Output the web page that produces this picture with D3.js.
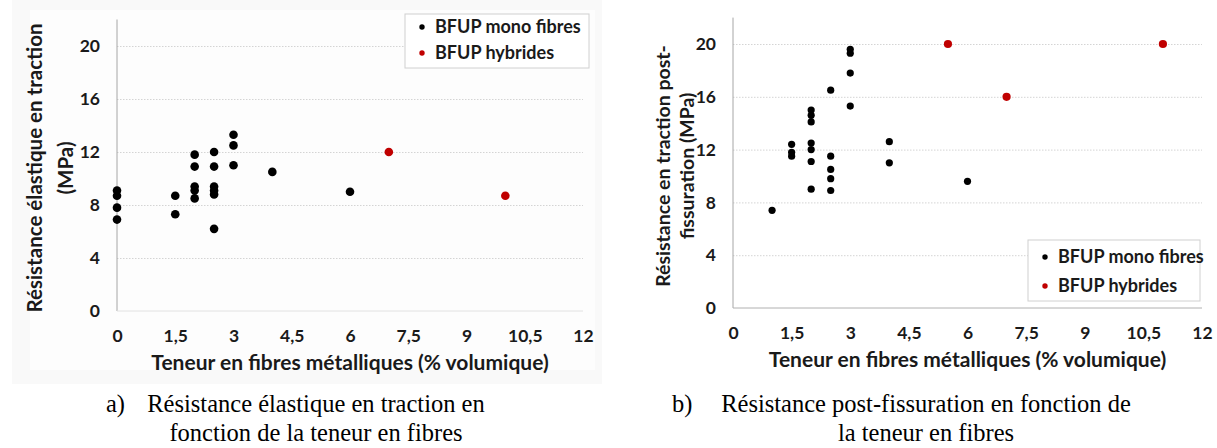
<!DOCTYPE html>
<html>
<head>
    <meta charset="UTF-8">
    <style>
        body {
            margin: 0;
            background: #fff;
        }

        svg text {
            font-family: Lato, "Open Sans", sans-serif;
            font-weight: bold;
            fill: #1a1a1a;
        }

        .grid line {
            stroke: #d4d4d4;
            stroke-dasharray: 1.5 1.5;
        }

        .caption {
            font-family: "Liberation Serif", "Times New Roman", serif !important;
            font-weight: normal !important;
            font-size: 24.5px;
            fill: #000 !important;
        }
    </style>
    <title>BFUP</title>
</head>
<body>
    <svg id="chart" width="1217" height="448"></svg>

    <script src="https://cdn.jsdelivr.net/npm/d3@7"></script>
    <script>
        const xTicks = [0, 1.5, 3, 4.5, 6, 7.5, 9, 10.5, 12];
        const yTicks = [0, 4, 8, 12, 16, 20];
        const seriesNames = ["BFUP mono fibres", "BFUP hybrides"];

        // a) résistance élastique
        const monoElastic = [
            [0, 9.1], [0, 8.7], [0, 7.8], [0, 6.9],
            [1.5, 8.7], [1.5, 7.3],
            [2, 11.8], [2, 10.9], [2, 9.4], [2, 9.1], [2, 8.5],
            [2.5, 12.0], [2.5, 10.9], [2.5, 9.4], [2.5, 9.1], [2.5, 8.8], [2.5, 6.2],
            [3, 13.3], [3, 12.5], [3, 11.0],
            [4, 10.5],
            [6, 9.0]
        ];
        const hybElastic = [[7, 12.0], [10, 8.7]];

        // b) résistance post-fissuration
        const monoPost = [
            [1, 7.4],
            [1.5, 12.4], [1.5, 11.8], [1.5, 11.5],
            [2, 15.0], [2, 14.6], [2, 14.1], [2, 12.5], [2, 12.0], [2, 11.1], [2, 9.0],
            [2.5, 16.5], [2.5, 11.5], [2.5, 10.5], [2.5, 9.8], [2.5, 8.9],
            [3, 19.6], [3, 19.3], [3, 17.8], [3, 15.3],
            [4, 12.6], [4, 11.0],
            [6, 9.6]
        ];
        const hybPost = [[5.5, 20], [7, 16], [11, 20]];

        const colors = ["#000", "#c00000"];
        const svg = d3.select("#chart");
        const fmt = d => String(d).replace(".", ",");

        // photo-like background behind panel a)
        svg.append("rect")
            .attr("x", 12).attr("y", 0)
            .attr("width", 590).attr("height", 384)
            .attr("fill", "#f9f9f9");
        svg.append("rect")
            .attr("x", 30).attr("y", 10)
            .attr("width", 565).attr("height", 360)
            .attr("fill", "#fdfdfd");

        function drawPanel(p) {
            const x = d3.scaleLinear().domain([0, 12]).range([p.left, p.right]);
            const y = d3.scaleLinear().domain([0, 22]).range([p.bottom, p.top]);
            const g = svg.append("g");

            // grid + y labels
            const yAxis = g.append("g")
                .attr("class", "grid")
                .attr("transform", `translate(${p.left},0)`)
                .call(d3.axisLeft(y).tickValues(yTicks)
                    .tickSizeInner(-(p.right - p.left)).tickSizeOuter(0)
                    .tickPadding(17));
            yAxis.select(".domain").remove();
            yAxis.selectAll(".tick").filter(d => d === 0).select("line").remove();
            yAxis.selectAll("text").style("font-size", "17.5px");

            // x labels
            const xAxis = g.append("g")
                .attr("transform", `translate(0,${p.bottom})`)
                .call(d3.axisBottom(x).tickValues(xTicks).tickFormat(fmt)
                    .tickSize(0).tickPadding(19));
            xAxis.select(".domain").remove();
            xAxis.selectAll("text").style("font-size", "17.5px");

            // axis lines
            g.append("line")
                .attr("x1", p.left).attr("x2", p.left)
                .attr("y1", p.bottom).attr("y2", y(22))
                .attr("stroke", "#a6a6a6");
            g.append("line")
                .attr("x1", p.left).attr("x2", p.right)
                .attr("y1", p.bottom).attr("y2", p.bottom)
                .attr("stroke", p.xLine);

            // points
            [p.mono, p.hyb].forEach((data, i) => {
                g.append("g").selectAll("circle")
                    .data(data)
                    .join("circle")
                    .attr("cx", d => x(d[0]))
                    .attr("cy", d => y(d[1]))
                    .attr("r", p.radius[i])
                    .attr("fill", colors[i]);
            });

            // titles
            g.append("text")
                .attr("x", (p.left + p.right) / 2)
                .attr("y", p.bottom + 59)
                .attr("text-anchor", "middle")
                .style("font-size", "21px")
                .text("Teneur en fibres métalliques (% volumique)");

            p.yTitle.forEach((line, i) => {
                g.append("text")
                    .attr("transform", `translate(${p.yTitleX[i]},${p.yTitleY}) rotate(-90)`)
                    .attr("text-anchor", "middle")
                    .attr("dy", "0.35em")
                    .style("font-size", p.yTitleSize)
                    .text(line);
            });

            // legend
            const lg = g.append("g").attr("transform", `translate(${p.legend[0]},${p.legend[1]})`);
            lg.append("rect")
                .attr("width", p.legend[2]).attr("height", p.legend[3])
                .attr("fill", "#fff").attr("stroke", "#d0d0d0");
            seriesNames.forEach((name, i) => {
                const row = lg.append("g").attr("transform", `translate(0,${p.legendRows[i]})`);
                row.append("circle")
                    .attr("cx", 17).attr("r", 2.7)
                    .attr("fill", colors[i]);
                row.append("text")
                    .attr("x", 30).attr("dy", "0.35em")
                    .style("font-size", "18px")
                    .text(name);
            });

            // caption
            svg.append("text").attr("class", "caption")
                .attr("x", p.capLabelX).attr("y", 412)
                .text(p.capLabel);
            p.caption.forEach((line, i) => {
                svg.append("text").attr("class", "caption")
                    .attr("x", p.capCenter).attr("y", 412 + i * 29)
                    .attr("text-anchor", "middle")
                    .text(line);
            });
        }

        drawPanel({
            left: 117, right: 583, top: 19.5, bottom: 311,
            mono: monoElastic, hyb: hybElastic,
            radius: [4.3, 4.3],
            xLine: "#e2e2e2",
            yTitle: ["Résistance élastique en traction", "(MPa)"],
            yTitleX: [35, 66], yTitleY: 168, yTitleSize: "20.5px",
            legend: [405, 14, 184, 54], legendRows: [13, 39],
            capLabel: "a)", capLabelX: 106, capCenter: 316,
            caption: ["Résistance élastique en traction en", "fonction de la teneur en fibres"]
        });

        drawPanel({
            left: 733, right: 1202, top: 17.6, bottom: 308,
            mono: monoPost, hyb: hybPost,
            radius: [3.6, 4.1],
            xLine: "#b0b0b0",
            yTitle: ["Résistance en traction post-", "fissuration (MPa)"],
            yTitleX: [663, 687], yTitleY: 166, yTitleSize: "19.5px",
            legend: [1028, 240, 172, 61], legendRows: [17, 46],
            capLabel: "b)", capLabelX: 672, capCenter: 926,
            caption: ["Résistance post-fissuration en fonction de", "la teneur en fibres"]
        });
    </script>
</body>
</html>
